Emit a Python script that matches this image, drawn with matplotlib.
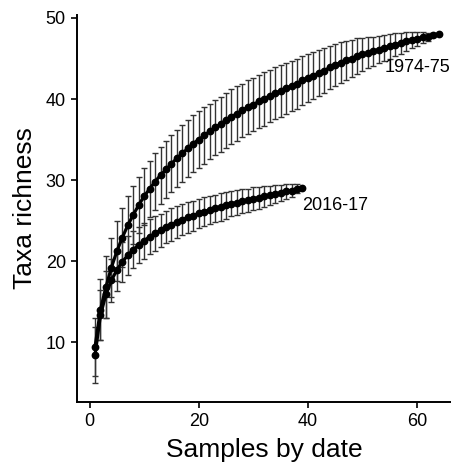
import matplotlib.pyplot as plt
import numpy as np

plt.rcParams['font.family'] = ['Liberation Sans', 'DejaVu Sans']

# 1974-75 accumulation curve (samples 1..64)
rich_7475 = [9.4, 14.0, 16.8, 19.2, 21.2, 22.9, 24.4, 25.7, 26.9, 28.0,
             28.9, 29.8, 30.6, 31.3, 32.0, 32.7, 33.3, 33.9, 34.5, 35.0,
             35.5, 36.0, 36.5, 36.9, 37.4, 37.8, 38.2, 38.6, 39.0, 39.3,
             39.7, 40.0, 40.4, 40.7, 41.0, 41.3, 41.6, 41.9, 42.3, 42.6,
             42.9, 43.2, 43.5, 43.9, 44.2, 44.5, 44.8, 45.0, 45.3, 45.5,
             45.7, 45.9, 46.1, 46.3, 46.5, 46.7, 46.9, 47.1, 47.3, 47.4,
             47.6, 47.7, 47.9, 48.0]
sd_7475 = [3.6, 3.8, 3.8, 3.7, 3.7, 3.6, 3.6, 3.6, 3.5, 3.5,
           3.5, 3.5, 3.5, 3.5, 3.5, 3.5, 3.5, 3.5, 3.5, 3.5,
           3.5, 3.4, 3.4, 3.4, 3.4, 3.4, 3.4, 3.3, 3.3, 3.3,
           3.3, 3.3, 3.2, 3.2, 3.2, 3.2, 3.1, 3.1, 3.0, 3.0,
           2.9, 2.8, 2.8, 2.7, 2.6, 2.5, 2.4, 2.3, 2.2, 2.0,
           1.9, 1.8, 1.7, 1.6, 1.5, 1.4, 1.3, 1.2, 1.0, 0.9,
           0.7, 0.5, 0.3, 0.0]

# 2016-17 accumulation curve (samples 1..39)
rich_1617 = [8.4, 13.3, 15.9, 17.6, 18.9, 19.9, 20.7, 21.4, 22.0, 22.5,
             23.0, 23.4, 23.8, 24.2, 24.5, 24.8, 25.1, 25.4, 25.6, 25.9,
             26.1, 26.3, 26.5, 26.7, 26.9, 27.1, 27.2, 27.4, 27.5, 27.7,
             27.8, 28.0, 28.1, 28.3, 28.4, 28.6, 28.7, 28.9, 29.0]
sd_1617 = [3.4, 3.1, 2.9, 2.7, 2.6, 2.5, 2.4, 2.3, 2.25, 2.2,
           2.15, 2.1, 2.05, 2.0, 2.0, 1.95, 1.9, 1.9, 1.85, 1.8,
           1.8, 1.75, 1.7, 1.7, 1.65, 1.6, 1.55, 1.5, 1.45, 1.4,
           1.35, 1.3, 1.2, 1.1, 1.0, 0.9, 0.75, 0.55, 0.0]

labels = ['1974-75', '2016-17']

fig = plt.figure(figsize=(4.52, 4.66), dpi=100)
ax = fig.add_axes([77 / 452, 64 / 466, 375 / 452, 387 / 466])

for rich, sd in [(rich_7475, sd_7475), (rich_1617, sd_1617)]:
    x = np.arange(1, len(rich) + 1)
    ax.errorbar(x, rich, yerr=sd, fmt='none', ecolor='#333333',
                elinewidth=1.0, capsize=2.3, capthick=1.0, zorder=1)
    ax.plot(x, rich, color='black', lw=2.3, zorder=2)
    ax.plot(x, rich, 'o', color='black', ms=4.6, zorder=3)

# 系列标签
ax.text(54.0, 43.9, labels[0], fontsize=13, va='center', ha='left')
ax.text(38.9, 26.8, labels[1], fontsize=13, va='center', ha='left')

ax.set_xlim(-2.3, 66.4)
ax.set_ylim(2.6, 50.37)
ax.set_xticks([0, 20, 40, 60])
ax.set_yticks([10, 20, 30, 40, 50])
ax.set_xlabel('Samples by date', fontsize=19, labelpad=6)
ax.set_ylabel('Taxa richness', fontsize=19, labelpad=6)

for s in ['top', 'right']:
    ax.spines[s].set_visible(False)
for s in ['left', 'bottom']:
    ax.spines[s].set_linewidth(1.4)
ax.tick_params(axis='both', length=4, width=1.2, labelsize=13,
               colors='black', pad=4)

fig.savefig('out.png', dpi=100)
